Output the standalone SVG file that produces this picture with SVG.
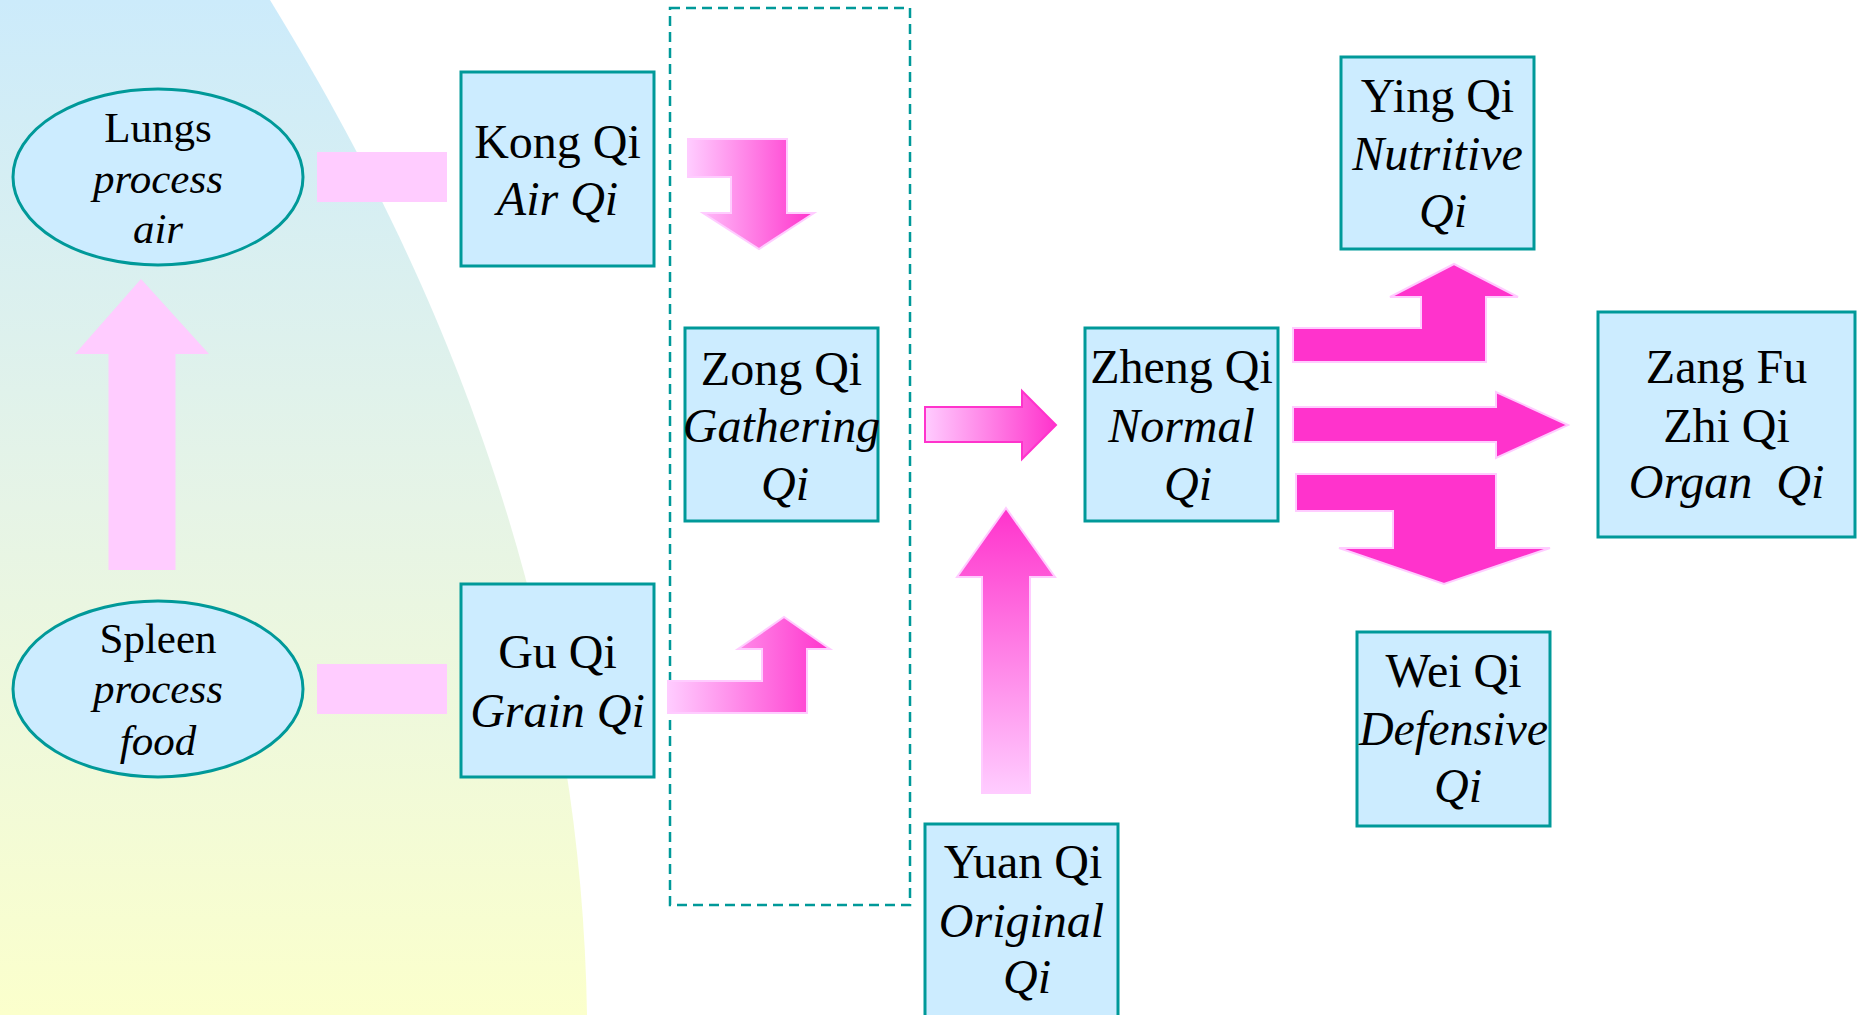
<svg xmlns="http://www.w3.org/2000/svg" width="1860" height="1015" viewBox="0 0 1860 1015">
<defs>
<linearGradient id="bg" x1="0" y1="0" x2="0" y2="1">
<stop offset="0" stop-color="#CCEBFB"/>
<stop offset="0.5" stop-color="#E6F4E6"/>
<stop offset="1" stop-color="#FBFFCC"/>
</linearGradient>
<linearGradient id="gh" x1="0" y1="0" x2="1" y2="0">
<stop offset="0" stop-color="#FFCCFF"/>
<stop offset="1" stop-color="#FF33CC"/>
</linearGradient>
<linearGradient id="gv" x1="0" y1="1" x2="0" y2="0">
<stop offset="0" stop-color="#FFCCFF"/>
<stop offset="1" stop-color="#FF33CC"/>
</linearGradient>
</defs>
<style>
.box{fill:#CCECFF;stroke:#009999;stroke-width:3}
.t{font-family:"Liberation Serif","Times New Roman",serif;font-size:48px;fill:#000;text-anchor:middle}
.s{font-size:43px}
.i{font-style:italic}
.pink{fill:#FFCCFF}
.mag{fill:#FF33CC;stroke:#FFCCFF;stroke-width:2}
</style>
<rect width="1860" height="1015" fill="#FFFFFF"/>
<path d="M0,0 L270,0 C380,180 580,540 587,1015 L0,1015 Z" fill="url(#bg)"/>
<rect x="670" y="8" width="240" height="897" fill="none" stroke="#009999" stroke-width="2.5" stroke-dasharray="10,6"/>
<g id="connectors">
<rect class="pink" x="317" y="152" width="130" height="50"/>
<rect class="pink" x="317" y="664" width="130" height="50"/>
<polygon class="pink" points="141,279 209,354 175.5,354 175.5,570 108.5,570 108.5,354 75,354"/>
<polygon fill="url(#gh)" stroke="#FFCCFF" stroke-width="2" points="688,139 787,139 787,213 814,213 759,249 703,213 731,213 731,177 688,177"/>
<polygon fill="url(#gh)" stroke="#FFCCFF" stroke-width="2" points="668,681 762,681 762,649 738,649 784,617 830,649 807,649 807,713 668,713"/>
<polygon fill="url(#gh)" stroke="#FF33CC" stroke-width="2" points="925,407 1022,407 1022,391 1056,425 1022,459 1022,442 925,442"/>
<polygon fill="url(#gv)" stroke="#FFCCFF" stroke-width="2" points="1006,508 1055,577 1030,577 1030,793 982,793 982,577 957,577"/>
<polygon class="mag" points="1293,328 1421,328 1421,297 1390,297 1454,264 1518,297 1486,297 1486,362 1293,362"/>
<polygon class="mag" points="1293,407 1496,407 1496,392 1568,425 1496,458 1496,442 1293,442"/>
<polygon class="mag" points="1296,474 1496,474 1496,548 1550,548 1444,584 1339,548 1393,548 1393,511 1296,511"/>
</g>
<g id="lungs">
<ellipse class="box" cx="158" cy="177" rx="145" ry="88"/>
<text class="t s" x="158" y="142">Lungs</text>
<text class="t s i" x="158" y="193">process</text>
<text class="t s i" x="158" y="243">air</text>
</g>
<g id="spleen">
<ellipse class="box" cx="158" cy="689" rx="145" ry="88"/>
<text class="t s" x="158" y="653">Spleen</text>
<text class="t s i" x="158" y="703">process</text>
<text class="t s i" x="158" y="755">food</text>
</g>
<g id="kongqi">
<rect class="box" x="461" y="72" width="193" height="194"/>
<text class="t" x="557.5" y="158">Kong Qi</text>
<text class="t i" x="557.5" y="215">Air Qi</text>
</g>
<g id="guqi">
<rect class="box" x="461" y="584" width="193" height="193"/>
<text class="t" x="557.5" y="668">Gu Qi</text>
<text class="t i" x="557.5" y="727">Grain Qi</text>
</g>
<g id="zongqi">
<rect class="box" x="685" y="328" width="193" height="193"/>
<text class="t" x="781.5" y="385">Zong Qi</text>
<text class="t i" x="781.5" y="442">Gathering</text>
<text class="t i" x="785" y="500">Qi</text>
</g>
<g id="zhengqi">
<rect class="box" x="1085" y="328" width="193" height="193"/>
<text class="t" x="1181.5" y="383">Zheng Qi</text>
<text class="t i" x="1181.5" y="442">Normal</text>
<text class="t i" x="1188" y="500">Qi</text>
</g>
<g id="yingqi">
<rect class="box" x="1341" y="57" width="193" height="192"/>
<text class="t" x="1437.5" y="112">Ying Qi</text>
<text class="t i" x="1437.5" y="170">Nutritive</text>
<text class="t i" x="1443" y="227">Qi</text>
</g>
<g id="zangfu">
<rect class="box" x="1598" y="312" width="257" height="225"/>
<text class="t" x="1726.5" y="383">Zang Fu</text>
<text class="t" x="1726.5" y="442">Zhi Qi</text>
<text class="t i" x="1726.5" y="498" xml:space="preserve">Organ  Qi</text>
</g>
<g id="weiqi">
<rect class="box" x="1357" y="632" width="193" height="194"/>
<text class="t" x="1453.5" y="687">Wei Qi</text>
<text class="t i" x="1453.5" y="745">Defensive</text>
<text class="t i" x="1458" y="802">Qi</text>
</g>
<g id="yuanqi">
<rect class="box" x="925" y="824" width="193" height="205"/>
<text class="t" x="1023" y="878">Yuan Qi</text>
<text class="t i" x="1021.5" y="937">Original</text>
<text class="t i" x="1027" y="993">Qi</text>
</g>
</svg>
